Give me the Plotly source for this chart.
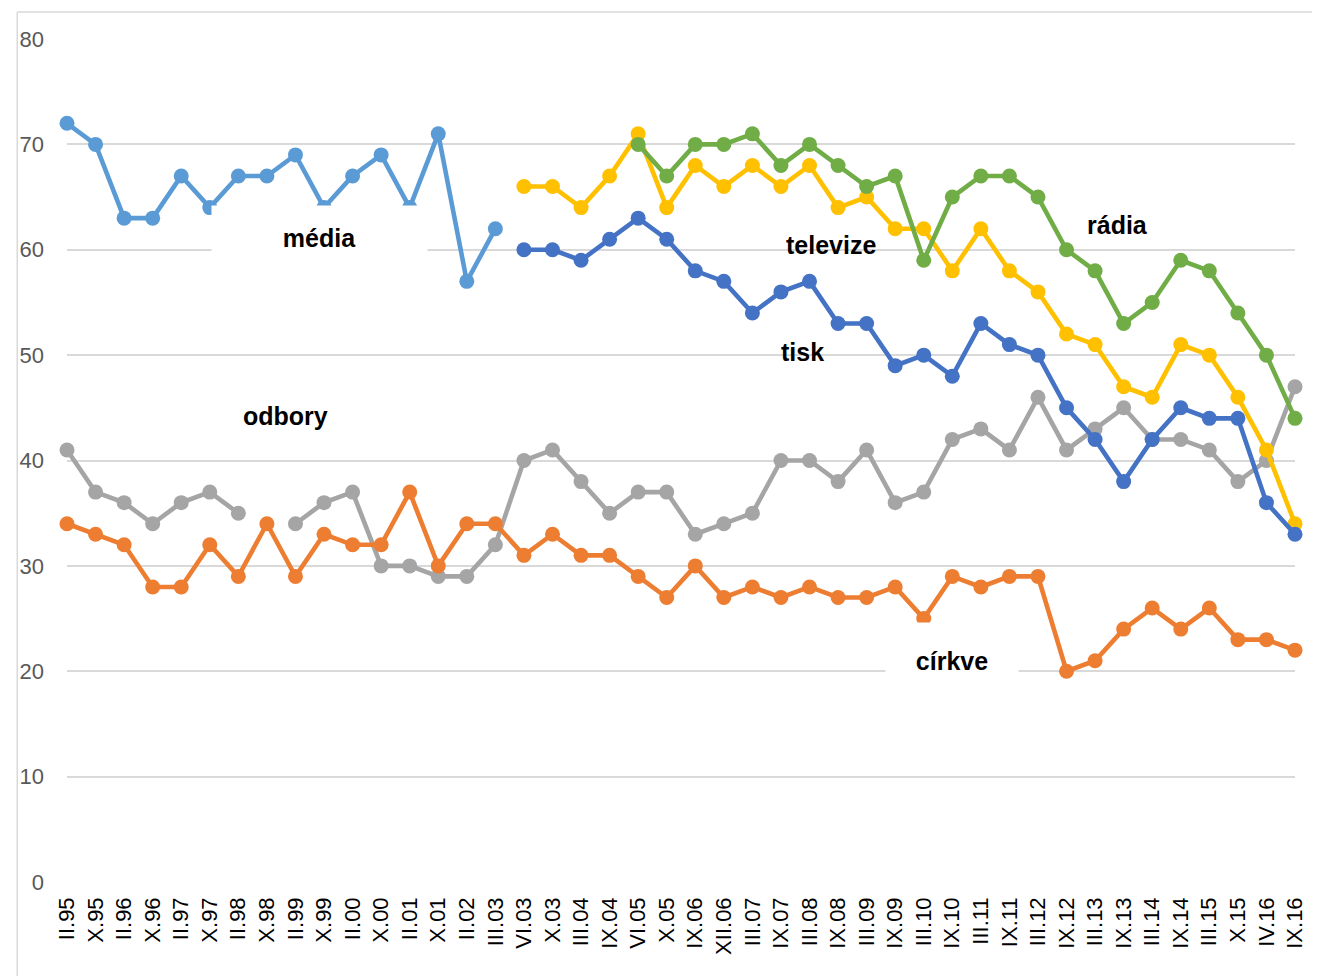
import plotly.graph_objects as go

categories = ["II.95", "X.95", "II.96", "X.96", "II.97", "X.97", "II.98", "X.98", "II.99", "X.99",
              "II.00", "X.00", "II.01", "X.01", "II.02", "III.03", "VI.03", "X.03", "III.04", "IX.04",
              "VI.05", "X.05", "IX.06", "XII.06", "III.07", "IX.07", "III.08", "IX.08", "III.09", "IX.09",
              "III.10", "IX.10", "III.11", "IX.11", "III.12", "IX.12", "III.13", "IX.13", "III.14", "IX.14",
              "III.15", "X.15", "IV.16", "IX.16"]

N = None
media = [72, 70, 63, 63, 67, 64, 67, 67, 69, 64, 67, 69, 64, 71, 57, 62] + [N] * 28
televize = [N] * 16 + [66, 66, 64, 67, 71, 64, 68, 66, 68, 66, 68, 64, 65, 62, 62, 58, 62, 58, 56, 52,
                       51, 47, 46, 51, 50, 46, 41, 34]
radia = [N] * 20 + [70, 67, 70, 70, 71, 68, 70, 68, 66, 67, 59, 65, 67, 67, 65, 60, 58, 53, 55, 59,
                    58, 54, 50, 44]
tisk = [N] * 16 + [60, 60, 59, 61, 63, 61, 58, 57, 54, 56, 57, 53, 53, 49, 50, 48, 53, 51, 50, 45,
                   42, 38, 42, 45, 44, 44, 36, 33]
odbory = [41, 37, 36, 34, 36, 37, 35, N, 34, 36, 37, 30, 30, 29, 29, 32, 40, 41, 38, 35,
          37, 37, 33, 34, 35, 40, 40, 38, 41, 36, 37, 42, 43, 41, 46, 41, 43, 45, 42, 42,
          41, 38, 40, 47]
cirkve = [34, 33, 32, 28, 28, 32, 29, 34, 29, 33, 32, 32, 37, 30, 34, 34, 31, 33, 31, 31,
          29, 27, 30, 27, 28, 27, 28, 27, 27, 28, 25, 29, 28, 29, 29, 20, 21, 24, 26, 24,
          26, 23, 23, 22]

y_ticks = [0, 10, 20, 30, 40, 50, 60, 70, 80]

series = [
    ("odbory", odbory, "#A5A5A5"),
    ("církve", cirkve, "#ED7D31"),
    ("média", media, "#5B9BD5"),
    ("televize", televize, "#FFC000"),
    ("rádia", radia, "#70AD47"),
    ("tisk", tisk, "#4472C4"),
]

fig = go.Figure()
for name, vals, col in series:
    fig.add_trace(go.Scatter(
        x=categories, y=vals, name=name, mode="lines+markers",
        line=dict(color=col, width=4.6),
        marker=dict(color=col, size=15),
        connectgaps=False, cliponaxis=False, showlegend=False,
    ))

lab_font = dict(family="Liberation Sans, Arial, sans-serif", size=25, color="#000000")
labels = [
    ("<b>média</b>", 8.83, 61.1, 215, 64),
    ("<b>církve</b>", 31.0, 20.97, 132, 76),
    ("<b>televize</b>", 26.74, 60.44, None, None),
    ("<b>rádia</b>", 36.8, 62.33, None, None),
    ("<b>tisk</b>", 25.77, 50.28, None, None),
    ("<b>odbory</b>", 7.66, 44.2, None, None),
]
for txt, x, y, w, h in labels:
    kw = dict(x=x, y=y, xref="x", yref="y", text=txt, showarrow=False, font=lab_font,
              xanchor="center", yanchor="middle")
    if w:
        kw.update(width=w, height=h, bgcolor="#FFFFFF", borderpad=0)
    fig.add_annotation(**kw)

# chart outer border (top and left edges)
fig.add_shape(type="line", xref="paper", yref="paper", x0=-0.0405, x1=1.05, y0=1.032, y1=1.032,
              line=dict(color="#D9D9D9", width=1.5))
fig.add_shape(type="line", xref="paper", yref="paper", x0=-0.0405, x1=-0.0405, y0=1.032, y1=-0.2,
              line=dict(color="#D9D9D9", width=1.5))

fig.update_layout(
    width=1320, height=976,
    margin=dict(l=52, r=33, t=31, b=102),
    paper_bgcolor="#FFFFFF", plot_bgcolor="#FFFFFF",
    font=dict(family="Liberation Sans, Arial, sans-serif", color="#595959"),
)
fig.update_xaxes(
    type="category", range=[0, 43], tickangle=-90, showgrid=False,
    tickfont=dict(size=22, color="#000000"), ticks="", ticklabelstandoff=10,
    showline=False, zeroline=False,
)
fig.update_yaxes(
    range=[0, 80], tickvals=y_ticks, showgrid=True, gridcolor="#D9D9D9", gridwidth=1.5,
    tickfont=dict(size=22, color="#595959"), ticks="", ticklabelstandoff=22,
    zeroline=False, showline=False,
)

fig.write_html("out.html")
